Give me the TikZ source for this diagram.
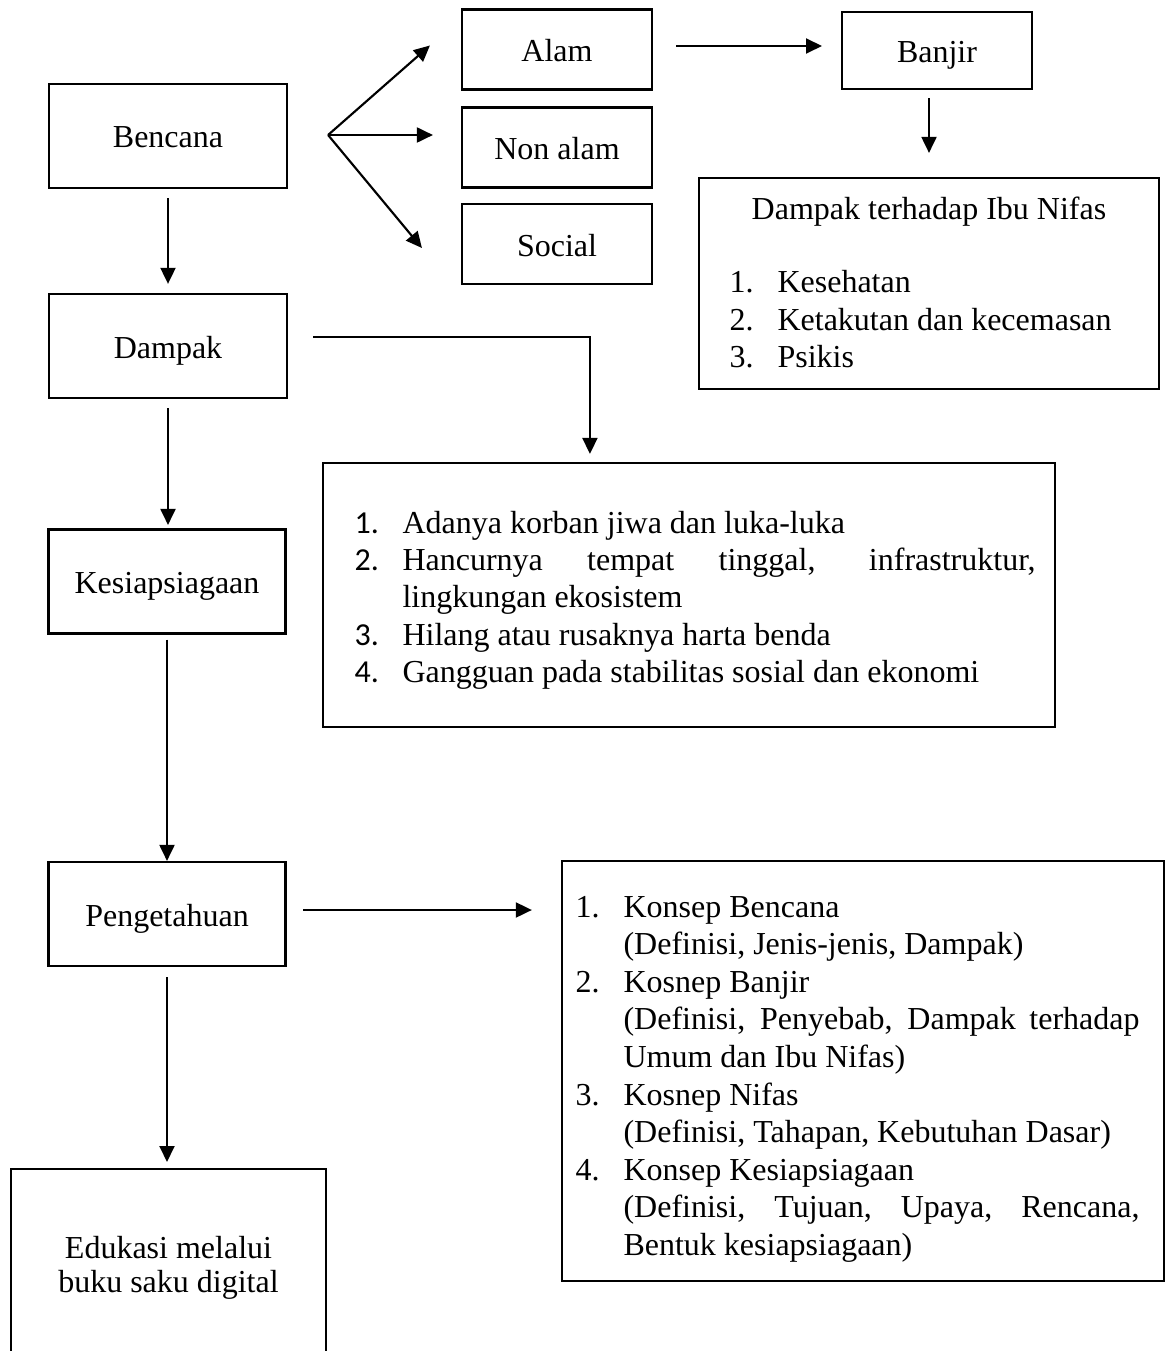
\documentclass[tikz,border=0pt]{standalone}
\usepackage{fontspec}
\setmainfont{Liberation Serif}
\newfontfamily\numfont{Carlito}
\usetikzlibrary{arrows.meta,calc}
\newcommand\vlines[2]{\vtop{\baselineskip=#1\lineskiplimit=-50pt\lineskip=0pt\relax #2}}
\newcommand\itm[2]{\hbox{\makebox[18pt][l]{#1}#2}}
\newcommand\cont[1]{\hbox{\hspace*{18pt}#1}}
\begin{document}
\begin{tikzpicture}[x=0.375pt,y=-0.375pt,
  every node/.style={font=\fontsize{12}{14.06}\selectfont},
  rbox/.style 2 args={draw, line width=0.8pt, rectangle, inner sep=0pt,
    minimum width=#1*0.375pt, minimum height=#2*0.375pt,
    text height=9pt, text depth=0pt},
  arr/.style={line width=0.8pt, -{Triangle[length=6pt,width=5.6pt]}},
  txt/.style={inner sep=0pt}]
\fill[white] (0,0) rectangle (1168,1351);
\useasboundingbox (0,0) rectangle (1168,1351);

% left column
\node[rbox={238}{104}] (bencana) at (168,136) {Bencana};
\node[rbox={238}{104}] (dampak) at (168,346) {Dampak};
\node[rbox={237}{104}] (kesiap) at (167,581.5) {Kesiapsiagaan};
\node[rbox={237}{104}] (penget) at (167,914) {Pengetahuan};
\node[rbox={315}{240}, anchor=north] (edukasi) at (168.5,1168) {};
\node[txt, anchor=base] (edutext) at (168.5,1258)
  {\vlines{12.75pt}{\hbox to 0pt{\hss Edukasi melalui\hss}\hbox to 0pt{\hss buku saku digital\hss}}};

% types of disaster
\node[rbox={190}{80}] (alam) at (557,49.5) {Alam};
\node[rbox={190}{80}] (nonalam) at (557,147.5) {Non alam};
\node[rbox={190}{80}] (social) at (557,244) {Social};
\node[rbox={190}{77}] (banjir) at (937,50.5) {Banjir};

% Ibu nifas box
\node[rbox={460}{211}] (ibu) at (929,283.5) {};
\node[txt, anchor=base] (ibutitle) at (929,220) {Dampak terhadap Ibu Nifas};
\node[txt, anchor=base west] (ibulist) at (729,293)
  {\vlines{14.06pt}{\itm{1.}{Kesehatan}\itm{2.}{Ketakutan dan kecemasan}\itm{3.}{Psikis}}};

% dampak list box
\node[rbox={732}{264}] (dlist) at (689,595) {};
\node[txt, anchor=base west] (dlisttext) at (354,533)
  {\vlines{14.06pt}{%
    \itm{\numfont 1.}{Adanya korban jiwa dan luka-luka}%
    \itm{\numfont 2.}{\makebox[237.4pt][s]{Hancurnya tempat tinggal, infrastruktur,}}%
    \cont{lingkungan ekosistem}%
    \itm{\numfont 3.}{Hilang atau rusaknya harta benda}%
    \itm{\numfont 4.}{Gangguan pada stabilitas sosial dan ekonomi}}};

% konsep box
\node[rbox={602}{420}] (konsep) at (863,1071) {};
\node[txt, anchor=base west] (konseptext) at (575,917)
  {\vlines{14.1pt}{%
    \itm{1.}{Konsep Bencana}%
    \cont{(Definisi, Jenis-jenis, Dampak)}%
    \itm{2.}{Kosnep Banjir}%
    \cont{\makebox[193.5pt][s]{(Definisi, Penyebab, Dampak terhadap}}%
    \cont{Umum dan Ibu Nifas)}%
    \itm{3.}{Kosnep Nifas}%
    \cont{(Definisi, Tahapan, Kebutuhan Dasar)}%
    \itm{4.}{Konsep Kesiapsiagaan}%
    \cont{\makebox[193.5pt][s]{(Definisi, Tujuan, Upaya, Rencana,}}%
    \cont{Bentuk kesiapsiagaan)}}};

% fan from Bencana
\coordinate (fan) at ($(bencana.east)+(40,-1)$);
\coordinate (fanA) at ($(alam.west)+(-31,-4)$);
\coordinate (fanN) at ($(nonalam.west)+(-28,-12.5)$);
\coordinate (fanS) at ($(social.west)+(-39,4)$);
\draw[arr] (fan) -- (fanA);
\draw[arr] (fan) -- (fanN);
\draw[arr] (fan) -- (fanS);

% Alam -> Banjir -> Ibu
\coordinate (ae) at ($(alam.east)+(0,-3.5)$);
\draw[arr, shorten <=8.6pt, shorten >=7.1pt] (ae) -- (ae -| banjir.west);
\draw[arr, shorten <=3pt, shorten >=9pt] (ibu.north |- banjir.south) -- (ibu.north);

% vertical chain
\draw[arr, shorten <=3.4pt, shorten >=3.4pt] (bencana.south) -- (dampak.north);
\draw[arr, shorten <=3.4pt, shorten >=1.3pt] (dampak.south) -- (dampak.south |- kesiap.north);
\draw[arr, shorten <=1.9pt] (kesiap.south) -- (penget.north);
\draw[arr, shorten <=3.75pt, shorten >=2.25pt] (penget.south) -- (penget.south |- edukasi.north);

% Dampak -> list
\coordinate (ds) at ($(dampak.east)+(25,-9)$);
\coordinate (dl) at ($(dlist.north west)+(268,0)$);
\draw[arr, shorten >=3pt] (ds) -| (dl);

% Pengetahuan -> konsep
\coordinate (ps) at ($(penget.east)+(16.5,-4)$);
\draw[arr, shorten >=10.9pt] (ps) -- (ps -| konsep.west);
\end{tikzpicture}
\end{document}
